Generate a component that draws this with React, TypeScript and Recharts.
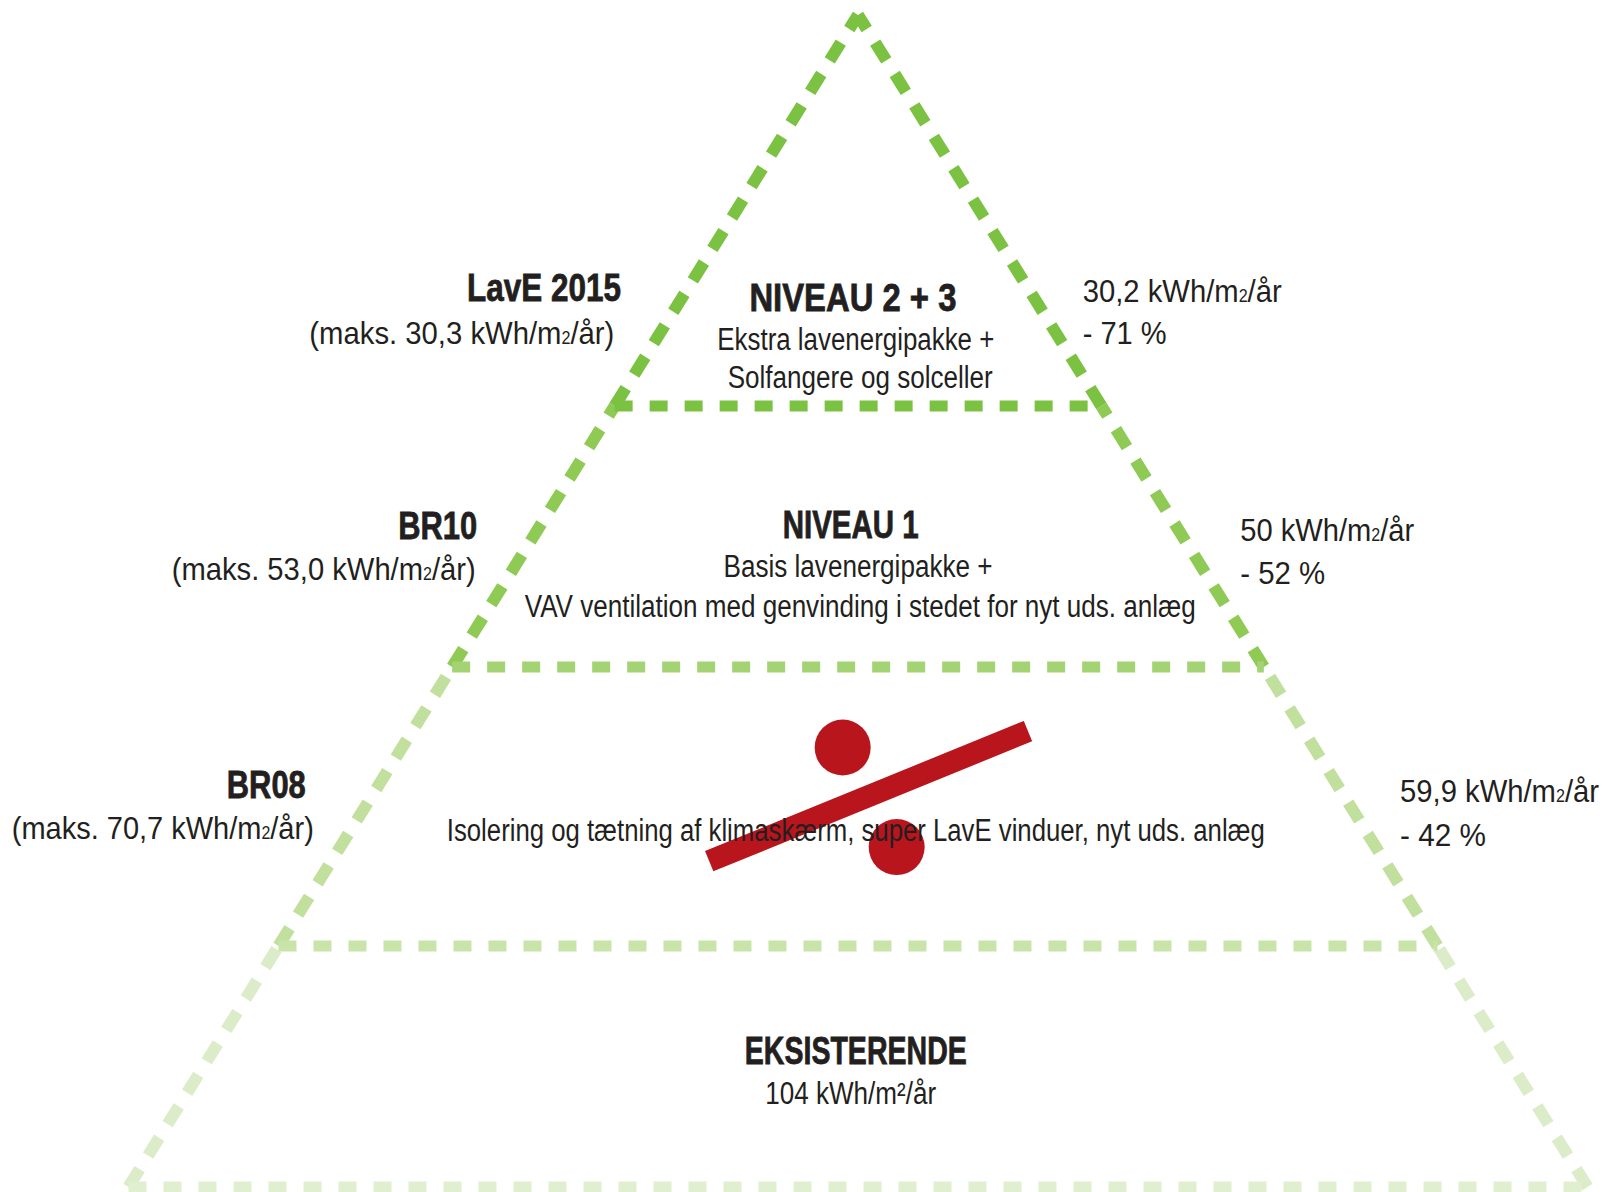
import React from 'react';
import { ComposedChart, Line, Scatter, XAxis, YAxis } from 'recharts';

// ---- data ----
const tierNames = ['EKSISTERENDE', 'BR08', 'BR10', 'LavE 2015'];
const tierBounds = [0, 20.56, 44.37, 66.64, 100];
const sideColors = ['#dcecc9', '#c2e09d', '#8fca55', '#7cc242'];
const floorColors = ['#e0efd0', '#c8e4a9', '#a3d373', '#7cc242'];

const percentBar = [
  { x: -20.4, y: 27.8 },
  { x: 23.3, y: 38.9 },
];
const percentDots = [
  { x: -2.1, y: 37.5 },
  { x: 5.3, y: 29.0 },
];

type Lbl = { x: number; y: number; text: string; bold?: boolean; size: number; anchor: 'start' | 'middle' | 'end'; w: number; sup?: boolean };

// label layout (anchor in chart units, target width in px)
const labels: Lbl[] = [
  { x: -32.5, y: 76.8, text: tierNames[3], bold: true, size: 39, anchor: 'end', w: 154 },
  { x: -33.4, y: 72.9, text: '(maks. 30,3 kWh/m²/år)', size: 32, anchor: 'end', w: 305 },
  { x: -0.7, y: 75.9, text: 'NIVEAU 2 + 3', bold: true, size: 39, anchor: 'middle', w: 207 },
  { x: -0.3, y: 72.4, text: 'Ekstra lavenergipakke +', size: 31, anchor: 'middle', w: 277 },
  { x: 0.3, y: 69.1, text: 'Solfangere og solceller', size: 31, anchor: 'middle', w: 265 },
  { x: 30.8, y: 76.5, text: '30,2 kWh/m²/år', size: 32, anchor: 'start', w: 199 },
  { x: 30.8, y: 72.9, text: '- 71 %', size: 32, anchor: 'start', w: 84 },
  { x: -52.2, y: 56.5, text: tierNames[2], bold: true, size: 39, anchor: 'end', w: 79 },
  { x: -52.4, y: 52.8, text: '(maks. 53,0 kWh/m²/år)', size: 32, anchor: 'end', w: 304 },
  { x: -1.0, y: 56.6, text: 'NIVEAU 1', bold: true, size: 39, anchor: 'middle', w: 136 },
  { x: 0, y: 53.0, text: 'Basis lavenergipakke +', size: 31, anchor: 'middle', w: 269 },
  { x: 0.3, y: 49.6, text: 'VAV ventilation med genvinding i stedet for nyt uds. anlæg', size: 31, anchor: 'middle', w: 671 },
  { x: 52.4, y: 56.1, text: '50 kWh/m²/år', size: 32, anchor: 'start', w: 174 },
  { x: 52.4, y: 52.4, text: '- 52 %', size: 32, anchor: 'start', w: 85 },
  { x: -75.7, y: 34.4, text: tierNames[1], bold: true, size: 39, anchor: 'end', w: 79 },
  { x: -74.6, y: 30.7, text: '(maks. 70,7 kWh/m²/år)', size: 32, anchor: 'end', w: 302 },
  { x: -0.3, y: 30.5, text: 'Isolering og tætning af klimaskærm, super LavE vinduer, nyt uds. anlæg', size: 31, anchor: 'middle', w: 818 },
  { x: 74.3, y: 33.8, text: '59,9 kWh/m²/år', size: 32, anchor: 'start', w: 199 },
  { x: 74.3, y: 30.1, text: '- 42 %', size: 32, anchor: 'start', w: 86 },
  { x: -0.3, y: 11.7, text: tierNames[0], bold: true, size: 39, anchor: 'middle', w: 222 },
  { x: -1.0, y: 8.0, text: '104 kWh/m²/år', size: 31, anchor: 'middle', w: 171, sup: true },
];

// ---- helpers ----
const FONT = "'Liberation Sans', Arial, sans-serif";
const half = (y: number) => 100 - y;

const sideSegments: { data: { x: number; y: number }[]; color: string }[] = [];
for (let i = 0; i < 4; i++) {
  const a = tierBounds[i];
  const b = tierBounds[i + 1];
  sideSegments.push({ data: [{ x: -half(a), y: a }, { x: -half(b), y: b }], color: sideColors[i] });
  sideSegments.push({ data: [{ x: half(a), y: a }, { x: half(b), y: b }], color: sideColors[i] });
}
const floors = tierBounds.slice(0, 4).map((b, i) => ({
  data: [{ x: -half(b), y: b }, { x: half(b), y: b }],
  color: floorColors[i],
}));

const LabelShape = (props: any) => {
  const p = props.payload ?? props;
  const { cx, cy } = props;
  const parts = String(p.text).split('²');
  const small = p.size * 0.55;
  const children: React.ReactNode[] = [];
  parts.forEach((part: string, i: number) => {
    children.push(<tspan key={'p' + i}>{part}</tspan>);
    if (i < parts.length - 1) {
      if (p.sup) {
        children.push(<tspan key={'s' + i}>²</tspan>);
      } else {
        children.push(
          <tspan key={'s' + i} fontSize={small}>
            2
          </tspan>
        );
      }
    }
  });
  return (
    <text
      x={cx}
      y={cy + p.size * 0.36}
      textAnchor={p.anchor}
      fontFamily={FONT}
      fontSize={p.size}
      fontWeight={p.bold ? 700 : 400}
      fill="#231f20"
      stroke={p.bold ? '#231f20' : 'none'}
      strokeWidth={p.bold ? 0.8 : 0}
      textLength={p.w}
      lengthAdjust="spacingAndGlyphs"
    >
      {children}
    </text>
  );
};

const DotShape = (props: any) => <circle cx={props.cx} cy={props.cy} r={28} fill="#b8151d" />;

export default function App() {
  return (
    <div style={{ position: 'fixed', left: 0, top: 0, width: 1605, height: 1192, background: '#fff' }}>
      <ComposedChart width={1605} height={1192} margin={{ top: 15, right: 17.5, bottom: 5, left: 128.5 }}>
        <XAxis type="number" dataKey="x" domain={[-100, 100]} hide />
        <YAxis type="number" dataKey="y" domain={[0, 100]} hide />
        {sideSegments.map((s, i) => (
          <Line
            key={'side' + i}
            data={s.data}
            dataKey="y"
            type="linear"
            stroke={s.color}
            strokeWidth={12}
            strokeDasharray="21 16"
            dot={false}
            activeDot={false}
            isAnimationActive={false}
          />
        ))}
        {floors.map((f, i) => (
          <Line
            key={'floor' + i}
            data={f.data}
            dataKey="y"
            type="linear"
            stroke={f.color}
            strokeWidth={11}
            strokeDasharray="18 17"
            dot={false}
            activeDot={false}
            isAnimationActive={false}
          />
        ))}
        <Line
          data={percentBar}
          dataKey="y"
          type="linear"
          stroke="#b8151d"
          strokeWidth={22}
          strokeLinecap="butt"
          dot={false}
          activeDot={false}
          isAnimationActive={false}
        />
        <Scatter data={percentDots} dataKey="y" shape={<DotShape />} isAnimationActive={false} />
        <Scatter data={labels} dataKey="y" shape={<LabelShape />} isAnimationActive={false} />
      </ComposedChart>
    </div>
  );
}
